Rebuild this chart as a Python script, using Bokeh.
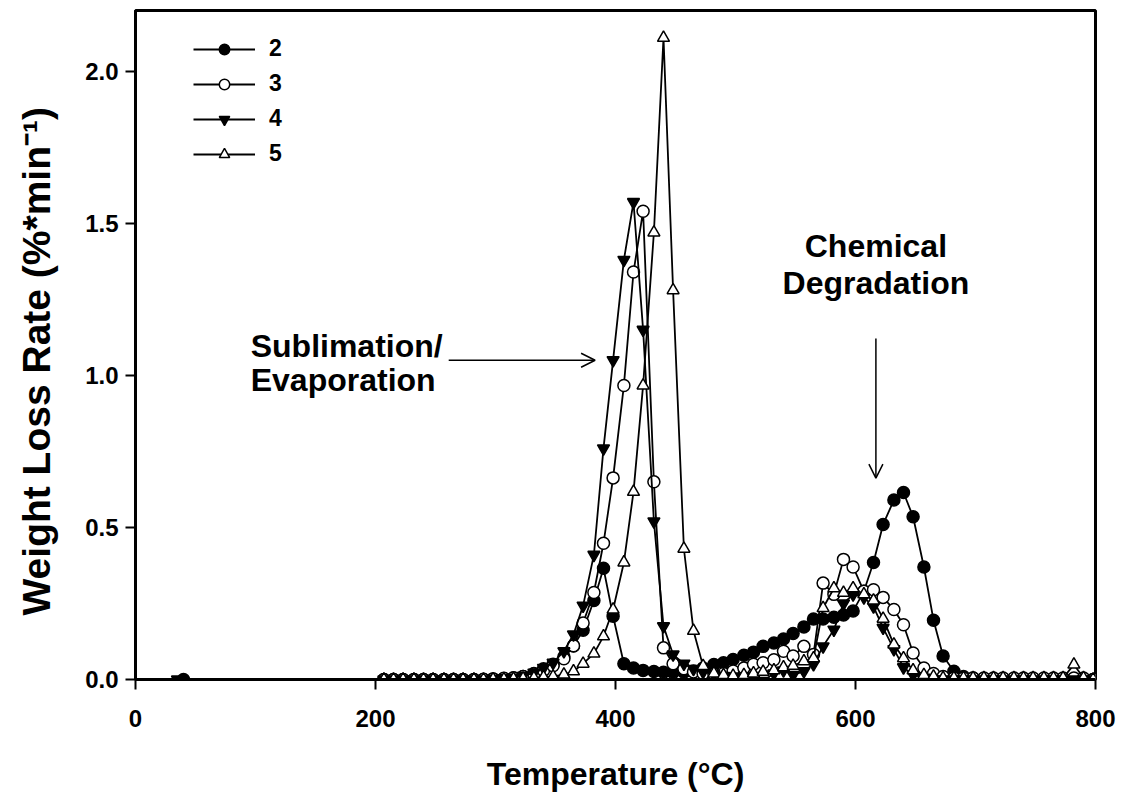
from bokeh.plotting import figure
from bokeh.models import (Range1d, Legend, LegendItem, Arrow, OpenHead, Label,
                          FixedTicker, NumeralTickFormatter)
from bokeh.embed import file_html
from bokeh.resources import INLINE

# Temperature grid (deg C) shared by the four series
T_GRID = [207, 215, 223, 232, 240, 248, 257, 265, 273, 282, 290, 298, 307, 315, 323, 332,
          340, 348, 357, 365, 373, 382, 390, 398, 407, 415, 423, 432, 440, 448, 457, 465,
          473, 482, 490, 498, 507, 515, 523, 532, 540, 548, 557, 565, 573, 582, 590, 598,
          607, 615, 623, 632, 640, 648, 657, 665, 673, 682, 690, 698, 707, 715, 723, 732,
          740, 748, 757, 765, 773, 782, 790, 798]

# early single points
T_EARLY_2 = [40]
V_EARLY_2 = [0.0]
T_EARLY_4 = [35]
V_EARLY_4 = [0.0]

S2 = [0, 0, 0, 0, 0, 0, 0, 0, 0, 0, 0, 0.002, 0.003, 0.005, 0.01, 0.02,
      0.035, 0.05, 0.075, 0.11, 0.162, 0.26, 0.366, 0.208, 0.052, 0.038, 0.03, 0.026, 0.024, 0.023, 0.024, 0.028,
      0.038, 0.049, 0.055, 0.066, 0.08, 0.09, 0.109, 0.12, 0.133, 0.151, 0.173, 0.199, 0.199, 0.205, 0.212, 0.225,
      0.29, 0.385, 0.51, 0.59, 0.615, 0.535, 0.37, 0.195, 0.077, 0.027, 0.01, 0.005, 0.003, 0.002, 0.002, 0.002,
      0.002, 0.002, 0.002, 0.002, 0.002, 0.002, 0.002, 0.0]

S3 = [0, 0, 0, 0, 0, 0, 0, 0, 0, 0, 0.001, 0.002, 0.004, 0.006, 0.01, 0.018,
      0.03, 0.045, 0.068, 0.111, 0.186, 0.286, 0.448, 0.663, 0.967, 1.34, 1.54, 0.65, 0.104, 0.052, 0.035, 0.025,
      0.02, 0.018, 0.02, 0.028, 0.038, 0.05, 0.055, 0.065, 0.093, 0.077, 0.109, 0.082, 0.317, 0.28, 0.395, 0.37,
      0.29, 0.295, 0.27, 0.23, 0.18, 0.087, 0.038, 0.02, 0.01, 0.005, 0.005, 0.005, 0.005, 0.005, 0.005, 0.005,
      0.005, 0.005, 0.005, 0.005, 0.005, 0.005, 0.005, 0.0]

S4 = [0, 0, 0, 0, 0, 0, 0, 0, 0, 0, 0, 0.002, 0.004, 0.006, 0.012, 0.022,
      0.038, 0.055, 0.093, 0.148, 0.243, 0.41, 0.76, 1.05, 1.38, 1.57, 1.15, 0.52, 0.175, 0.082, 0.052, 0.035,
      0.025, 0.018, 0.012, 0.01, 0.008, 0.01, -0.005, 0.02, 0.03, 0.015, 0.027, 0.05, 0.109, 0.164, 0.25, 0.28,
      0.27, 0.24, 0.17, 0.1, 0.04, 0.015, 0.006, 0, 0, 0, 0, 0, 0, 0, 0, 0,
      0, 0, 0, 0, 0, 0, 0, 0]

S5 = [0, 0, 0, 0, 0, 0, 0, 0, 0, 0, 0, 0.001, 0.001, 0.002, 0.003, 0.005,
      0.007, 0.01, 0.016, 0.027, 0.052, 0.085, 0.142, 0.23, 0.385, 0.617, 0.967, 1.47, 2.11, 1.28, 0.43, 0.16,
      0.044, 0.02, 0.015, 0.012, 0.015, 0.02, 0.025, 0.03, 0.04, 0.045, 0.06, 0.07, 0.235, 0.30, 0.285, 0.30,
      0.28, 0.26, 0.2, 0.115, 0.07, 0.03, 0.015, 0.01, 0.005, 0.005, 0.005, 0.005, 0.005, 0.005, 0.005, 0.005,
      0.005, 0.005, 0.005, 0.005, 0.005, 0.049, 0.005, 0.0]

LABELS = ["2", "3", "4", "5"]
X_TICKS = [0, 200, 400, 600, 800]
Y_TICKS = [0, 0.5, 1.0, 1.5, 2.0]

FONT = "Liberation Sans"

p = figure(width=1118, height=794, output_backend="svg", toolbar_location=None,
           x_range=Range1d(0, 800), y_range=Range1d(0, 2.2))
p.min_border_left = 135
p.min_border_right = 23
p.min_border_top = 10
p.min_border_bottom = 114
p.xgrid.visible = False
p.ygrid.visible = False
p.outline_line_color = "black"
p.outline_line_width = 3
p.background_fill_color = "white"
p.border_fill_color = "white"

for ax in (p.xaxis[0], p.yaxis[0]):
    ax.axis_line_width = 3
    ax.major_tick_in = 0
    ax.major_tick_out = 10
    ax.major_tick_line_width = 2
    ax.minor_tick_line_color = None
    ax.major_label_text_font = FONT
    ax.major_label_text_font_style = "bold"
    ax.major_label_text_font_size = "24px"
    ax.major_label_text_color = "black"
    ax.axis_label_text_font = FONT
    ax.axis_label_text_font_style = "bold"
    ax.axis_label_text_color = "black"

p.xaxis.axis_label_text_font_size = "32px"
p.yaxis.axis_label_text_font_size = "39px"
p.xaxis.ticker = FixedTicker(ticks=X_TICKS)
p.yaxis.ticker = FixedTicker(ticks=Y_TICKS)
p.yaxis.formatter = NumeralTickFormatter(format="0.0")
p.xaxis.major_label_standoff = 20
p.yaxis.major_label_standoff = 7
p.xaxis.axis_label = "Temperature (°C)"
p.yaxis.axis_label = "Weight Loss Rate (%*min⁻¹)\u00a0\u00a0\u00a0"
p.xaxis.axis_label_standoff = 26
p.yaxis.axis_label_standoff = 24

series = [
    (T_EARLY_2 + T_GRID, V_EARLY_2 + S2, "circle", "black"),
    (T_GRID, S3, "circle", "white"),
    (T_EARLY_4 + T_GRID, V_EARLY_4 + S4, "inverted_triangle", "black"),
    (T_GRID, S5, "triangle", "white"),
]

items = []
for (xs, ys, mk, fill), lab in zip(series, LABELS):
    ln = p.line(xs, ys, line_color="black", line_width=1.8)
    sc = p.scatter(xs, ys, marker=mk, size=12, fill_color=fill,
                   line_color="black", line_width=1.5)
    items.append(LegendItem(label=lab, renderers=[ln, sc]))

legend = Legend(items=items, location=(58, 512), border_line_color=None,
                background_fill_alpha=0, padding=0, margin=0, spacing=8,
                glyph_width=62, glyph_height=26, label_height=26, label_standoff=14,
                label_text_font=FONT, label_text_font_style="bold",
                label_text_font_size="23px", label_text_color="black")
p.add_layout(legend)

# annotations
p.add_layout(Arrow(end=OpenHead(size=14, line_width=1.5, line_color="black"),
                   x_start=261, y_start=1.05, x_end=383, y_end=1.05,
                   line_width=1.5, line_color="black"))
p.add_layout(Arrow(end=OpenHead(size=14, line_width=1.5, line_color="black"),
                   x_start=617, y_start=1.121, x_end=617, y_end=0.662,
                   line_width=1.5, line_color="black"))

for txt, x, y, align in [("Sublimation/", 96, 1.098, "left"),
                         ("Evaporation", 96, 0.984, "left"),
                         ("Chemical", 617, 1.426, "center"),
                         ("Degradation", 617, 1.305, "center")]:
    p.add_layout(Label(x=x, y=y, text=txt, text_align=align, text_baseline="middle",
                       text_font=FONT, text_font_style="bold", text_font_size="32px",
                       text_color="black"))

open("out.html", "w").write(file_html(p, INLINE))
